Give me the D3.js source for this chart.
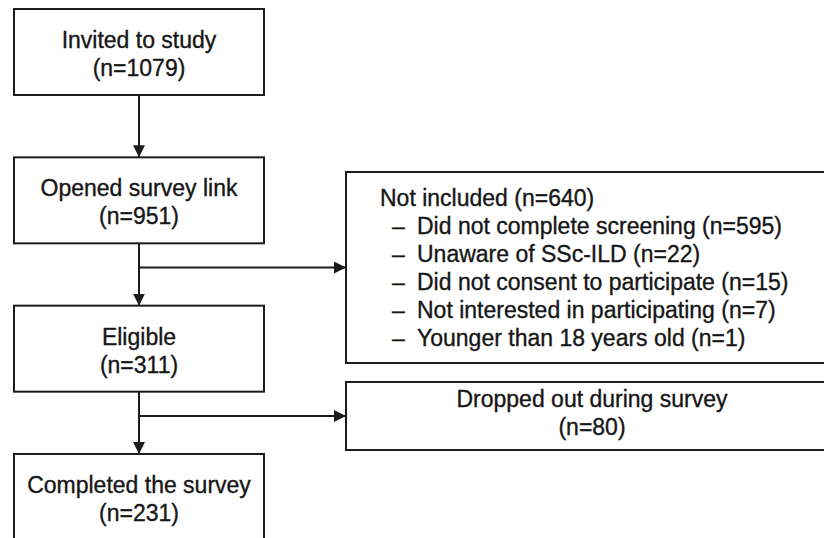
<!DOCTYPE html>
<html>
<head>
<meta charset="utf-8">
<script src="https://cdn.jsdelivr.net/npm/d3@7"></script>
<style>
  body { margin: 0; background: #fff; }
  .caja { fill: #fff; stroke: #1c1c1c; stroke-width: 2; }
  .linea { stroke: #1c1c1c; stroke-width: 2; fill: none; }
  .texto { font-family: "Liberation Sans", Arial, sans-serif; font-size: 23px; fill: #161616; stroke: #161616; stroke-width: 0.35; }
</style>
</head>
<body>
<div id="graph"></div>
<script>
// main flow
var stepLabels = ["Invited to study", "Opened survey link", "Eligible", "Completed the survey"];
var stepCounts = [1079, 951, 311, 231];

// exclusions
var exclLabels = ["Not included", "Dropped out during survey"];
var exclCounts = [640, 80];

var reasonLabels = ["Did not complete screening", "Unaware of SSc-ILD", "Did not consent to participate",
                    "Not interested in participating", "Younger than 18 years old"];
var reasonCounts = [595, 22, 15, 7, 1];

var W = 824, H = 538;
var svg = d3.select("#graph").append("svg").attr("width", W).attr("height", H);

var boxH = 86;
var y = d3.scaleLinear().domain([0, 3]).range([9, 454]);
var xMain = d3.scaleLinear().domain([0, 1]).range([14, 264]);
var cx = xMain(0.5);

svg.append("defs").append("marker")
  .attr("id", "flecha")
  .attr("viewBox", "0 0 12 12")
  .attr("refX", 12).attr("refY", 6)
  .attr("markerWidth", 12).attr("markerHeight", 12)
  .attr("markerUnits", "userSpaceOnUse")
  .attr("orient", "auto")
  .append("path").attr("d", "M0,0 L12,6 L0,12 Z").attr("fill", "#1c1c1c");

// main boxes
svg.selectAll("rect.paso")
  .data(stepLabels)
  .enter().append("rect")
  .attr("class", "caja paso")
  .attr("x", xMain(0))
  .attr("y", function(d, i){ return y(i); })
  .attr("width", xMain(1) - xMain(0))
  .attr("height", boxH);

stepLabels.forEach(function(d, i){
  var t = svg.append("text").attr("class", "texto").attr("text-anchor", "middle");
  t.append("tspan").attr("x", cx).attr("y", y(i) + 39).text(d);
  t.append("tspan").attr("x", cx).attr("y", y(i) + 67).text("(n=" + stepCounts[i] + ")");
});

// vertical arrows
for (var i = 0; i < stepLabels.length - 1; i++) {
  svg.append("line").attr("class", "linea")
    .attr("x1", cx).attr("x2", cx)
    .attr("y1", y(i) + boxH).attr("y2", y(i + 1))
    .attr("marker-end", "url(#flecha)");
}

// exclusion boxes
var xSide = 346, sideRight = 838;
var exclTop = [172, 382];
var exclH = [191, 68];

exclLabels.forEach(function(d, k){
  svg.append("rect").attr("class", "caja")
    .attr("x", xSide).attr("y", exclTop[k])
    .attr("width", sideRight - xSide).attr("height", exclH[k]);

  var by = exclTop[k] + exclH[k] / 2;
  svg.append("line").attr("class", "linea")
    .attr("x1", cx).attr("x2", xSide)
    .attr("y1", by).attr("y2", by)
    .attr("marker-end", "url(#flecha)");
});

// "Not included" box: heading and list
svg.append("text").attr("class", "texto")
  .attr("x", 380).attr("y", exclTop[0] + 34)
  .text(exclLabels[0] + " (n=" + exclCounts[0] + ")");

var ly = d3.scaleLinear().domain([0, 1]).range([exclTop[0] + 62, exclTop[0] + 90]);
reasonLabels.forEach(function(d, j){
  svg.append("text").attr("class", "texto")
    .attr("x", 392).attr("y", ly(j)).text("\u2013");
  svg.append("text").attr("class", "texto")
    .attr("x", 417).attr("y", ly(j)).text(d + " (n=" + reasonCounts[j] + ")");
});

// "Dropped out" box
var dcx = (xSide + sideRight) / 2;
var t2 = svg.append("text").attr("class", "texto").attr("text-anchor", "middle");
t2.append("tspan").attr("x", dcx).attr("y", exclTop[1] + 25).text(exclLabels[1]);
t2.append("tspan").attr("x", dcx).attr("y", exclTop[1] + 53).text("(n=" + exclCounts[1] + ")");
</script>
</body>
</html>
